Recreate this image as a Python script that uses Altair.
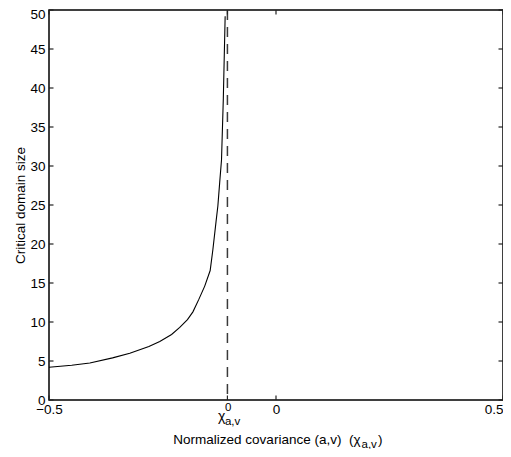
import altair as alt
import pandas as pd

# ---- data ----
x_vals = [-0.5, -0.45, -0.41, -0.36, -0.322, -0.28, -0.256, -0.23, -0.212, -0.195,
          -0.183, -0.17, -0.157, -0.145, -0.139, -0.132, -0.128, -0.124, -0.12, -0.116, -0.112]
y_vals = [4.2, 4.45, 4.75, 5.4, 6.0, 6.85, 7.5, 8.4, 9.3, 10.3,
          11.3, 12.9, 14.6, 16.6, 19.3, 22.9, 24.9, 27.9, 30.8, 38.7, 49.2]
chi0 = -0.107
x_ticks = [-0.5, chi0, 0, 0.5]
y_ticks = [0, 5, 10, 15, 20, 25, 30, 35, 40, 45, 50]

W, H = 454, 390
TICK = 4.5
FONT = "Liberation Sans, Arial, Helvetica, sans-serif"

curve = pd.DataFrame({"x": x_vals, "y": y_vals})
xt = pd.DataFrame({"x": x_ticks})
yt = pd.DataFrame({"y": y_ticks})
chi_df = pd.DataFrame({"x": [chi0]})

xs = alt.Scale(domain=[-0.5, 0.5], nice=False, zero=False)
ys = alt.Scale(domain=[0, 50], nice=False, zero=False)

x_axis = alt.Axis(
    values=x_ticks, ticks=False, domain=False, grid=False, title=None,
    labelExpr=f"abs(datum.value - ({chi0})) < 0.000001 ? '' : format(datum.value, '~g')",
    labelAlign={"condition": {"test": "datum.value >= 0.5", "value": "right"}, "value": "center"},
    labelPadding=2, labelFont=FONT, labelFontSize=13.5, labelColor="black",
    labelFlush=False, labelOverlap=False,
)
y_axis = alt.Axis(
    values=y_ticks, ticks=False, domain=False, grid=False,
    title="Critical domain size", titleFont=FONT, titleFontSize=13.5,
    titleFontWeight="normal", titleColor="black", titlePadding=2,
    labelOffset={"condition": {"test": "datum.value >= 50", "value": 4}, "value": 0},
    labelPadding=4, labelFont=FONT, labelFontSize=13.5, labelColor="black",
    labelFlush=False, labelOverlap=False,
)


def X(field="x"):
    return alt.X(f"{field}:Q", scale=xs, axis=x_axis)


def Y(field="y"):
    return alt.Y(f"{field}:Q", scale=ys, axis=y_axis)


line = alt.Chart(curve).mark_line(color="black", strokeWidth=1.1).encode(x=X(), y=Y())

dash = alt.Chart(chi_df).mark_rule(color="#3a3a3a", strokeWidth=1.5, strokeDash=[10, 7]).encode(x=X())

tick_style = dict(color="#222222", strokeWidth=1.2)
xb = alt.Chart(xt).mark_rule(**tick_style).encode(x=X(), y=alt.value(H), y2=alt.value(H - TICK))
xtop = alt.Chart(xt).mark_rule(**tick_style).encode(x=X(), y=alt.value(0), y2=alt.value(TICK))
yl = alt.Chart(yt).mark_rule(**tick_style).encode(y=Y(), x=alt.value(0), x2=alt.value(TICK))
yr = alt.Chart(yt).mark_rule(**tick_style).encode(y=Y(), x=alt.value(W - TICK), x2=alt.value(W))

# chi^0_{a,v} tick label
chi_main = alt.Chart(chi_df).mark_text(
    text="χ", align="right", baseline="alphabetic", dx=-2, font=FONT, fontSize=14, color="black"
).encode(x=X(), y=alt.value(411))
chi_sup = alt.Chart(chi_df).mark_text(
    text="0", align="left", baseline="alphabetic", dx=-2.5, font=FONT, fontSize=11.5, color="black"
).encode(x=X(), y=alt.value(401))
chi_sub = alt.Chart(chi_df).mark_text(
    text="a,v", align="left", baseline="alphabetic", dx=-2.5, font=FONT, fontSize=11.5, color="black"
).encode(x=X(), y=alt.value(415))

# x-axis title with subscript
one = pd.DataFrame({"k": [0]})
TY = 433.5
t1 = alt.Chart(one).mark_text(
    text="Normalized covariance (a,v)\u00a0\u00a0(χ", align="right", baseline="alphabetic",
    font=FONT, fontSize=13.5, color="black"
).encode(x=alt.value(311.5), y=alt.value(TY))
t2 = alt.Chart(one).mark_text(
    text="a,v", align="left", baseline="alphabetic", font=FONT, fontSize=11.5, color="black"
).encode(x=alt.value(312.5), y=alt.value(TY + 4.5))
t3 = alt.Chart(one).mark_text(
    text=")", align="left", baseline="alphabetic", font=FONT, fontSize=13.5, color="black"
).encode(x=alt.value(329), y=alt.value(TY))

chart = alt.layer(line, dash, xb, xtop, yl, yr, chi_main, chi_sup, chi_sub, t1, t2, t3).properties(
    width=W, height=H,
    background="white",
    autosize=alt.AutoSizeParams(type="none"),
    padding={"left": 41, "top": 2, "right": 0, "bottom": 49},
).configure_view(stroke="black", strokeWidth=1.5)

chart.save("out.html", embed_options={"renderer": "svg", "actions": False})
